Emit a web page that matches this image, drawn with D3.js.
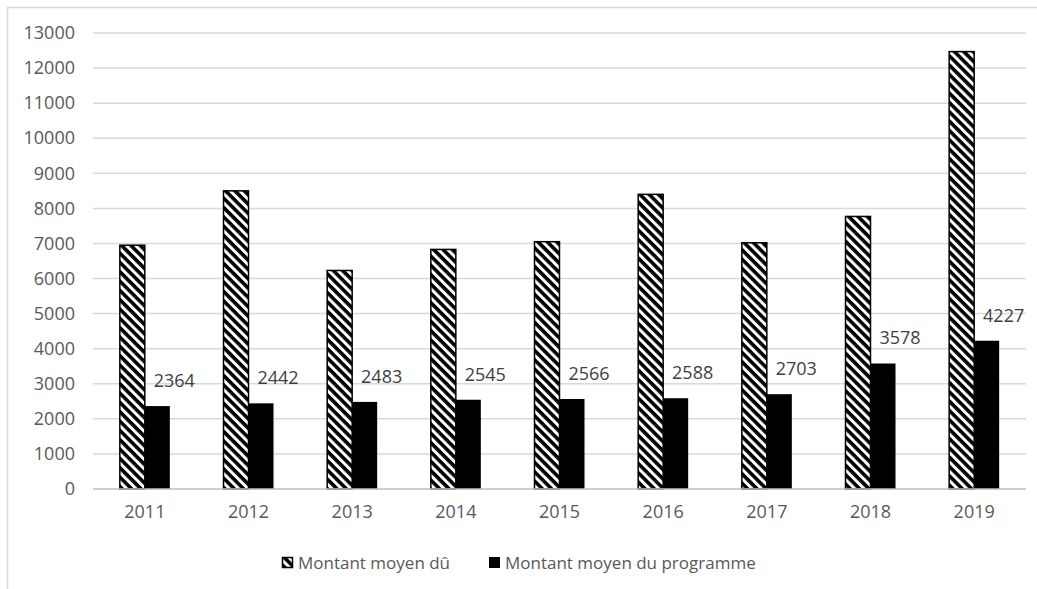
<!DOCTYPE html>
<html><head><meta charset="utf-8">
<script src="https://cdn.jsdelivr.net/npm/d3@7"></script>
<style>body{margin:0;background:#fff;overflow:hidden}svg{display:block}</style>
</head><body><svg id="c" width="1037" height="589"></svg>
<script>
const years = ["2011","2012","2013","2014","2015","2016","2017","2018","2019"];
const montantDu = [6950, 8500, 6230, 6830, 7050, 8400, 7020, 7770, 12470];
const montantProgramme = [2364, 2442, 2483, 2545, 2566, 2588, 2703, 3578, 4227];
const seriesNames = ["Montant moyen dû", "Montant moyen du programme"];
const yTicks = d3.range(0, 13001, 1000);

const svg = d3.select("#c");
const font = "'Open Sans', sans-serif";

// frame
svg.append("rect").attr("x",7.5).attr("y",7.5).attr("width",1040).attr("height",600)
  .attr("fill","#fff").attr("stroke","#d9d9d9").attr("stroke-width",1.5);

// hatch pattern
const defs = svg.append("defs");
const pat = defs.append("pattern").attr("id","hatch").attr("patternUnits","userSpaceOnUse")
  .attr("width",6.6).attr("height",6.6).attr("patternTransform","rotate(45)");
pat.append("rect").attr("width",6.6).attr("height",6.6).attr("fill","#fff");
pat.append("rect").attr("width",6.6).attr("height",3.6).attr("fill","#000");

const x0 = d3.scaleBand().domain(years).range([93,1026]).paddingInner(0).paddingOuter(0);
const x1 = d3.scaleBand().domain([0,1]).range([x0.bandwidth()/2-25, x0.bandwidth()/2+25]);
const y = d3.scaleLinear().domain([0,13000]).range([489,33]);

// gridlines
svg.append("g").selectAll("line").data(yTicks.filter(d=>d>0)).join("line")
  .attr("x1",93).attr("x2",1026).attr("y1",d=>y(d)).attr("y2",d=>y(d))
  .attr("stroke","#d9d9d9").attr("stroke-width",1.5);

// y axis labels
const yAxis = d3.axisLeft(y).tickValues(yTicks).tickSize(0).tickPadding(0).tickFormat(d3.format("d"));
const ya = svg.append("g").attr("transform","translate(75,0)").call(yAxis);
ya.select(".domain").remove();
ya.selectAll("text").attr("font-family",font).attr("font-size",18).attr("fill","#595959");

// bars
const g = svg.append("g");
years.forEach((yr,i)=>{
  const gx = x0(yr);
  g.append("rect").attr("x",gx+x1(0)).attr("width",x1.bandwidth())
    .attr("y",y(montantDu[i])).attr("height",y(0)-y(montantDu[i]))
    .attr("fill","url(#hatch)").attr("stroke","#000").attr("stroke-width",1.5);
  g.append("rect").attr("x",gx+x1(1)).attr("width",x1.bandwidth())
    .attr("y",y(montantProgramme[i])).attr("height",y(0)-y(montantProgramme[i]))
    .attr("fill","#000");
  g.append("text").attr("x",gx+x1(1)+x1.bandwidth()/2+17).attr("y",y(montantProgramme[i])-19)
    .attr("text-anchor","middle").attr("font-family",font).attr("font-size",18).attr("fill","#404040")
    .text(montantProgramme[i]);
});

// baseline
svg.append("line").attr("x1",93).attr("x2",1026).attr("y1",y(0)).attr("y2",y(0))
  .attr("stroke","#bfbfbf").attr("stroke-width",1.5);

// x axis labels
const xAxis = d3.axisBottom(x0).tickSize(0).tickPadding(0);
const xa = svg.append("g").attr("transform","translate(0,505)").call(xAxis);
xa.select(".domain").remove();
xa.selectAll("text").attr("font-family",font).attr("font-size",18).attr("fill","#595959").attr("dy","0.71em");

// legend
const leg = svg.append("g");
leg.append("rect").attr("x",282.5).attr("y",557.5).attr("width",10).attr("height",10)
  .attr("fill","url(#hatch)").attr("stroke","#000").attr("stroke-width",1.5);
leg.append("text").attr("x",298).attr("y",569).attr("font-family",font).attr("font-size",17)
  .attr("fill","#595959").text(seriesNames[0]);
leg.append("rect").attr("x",489).attr("y",557).attr("width",11).attr("height",11).attr("fill","#000");
leg.append("text").attr("x",505).attr("y",569).attr("font-family",font).attr("font-size",17)
  .attr("fill","#595959").text(seriesNames[1]);
</script></body></html>
